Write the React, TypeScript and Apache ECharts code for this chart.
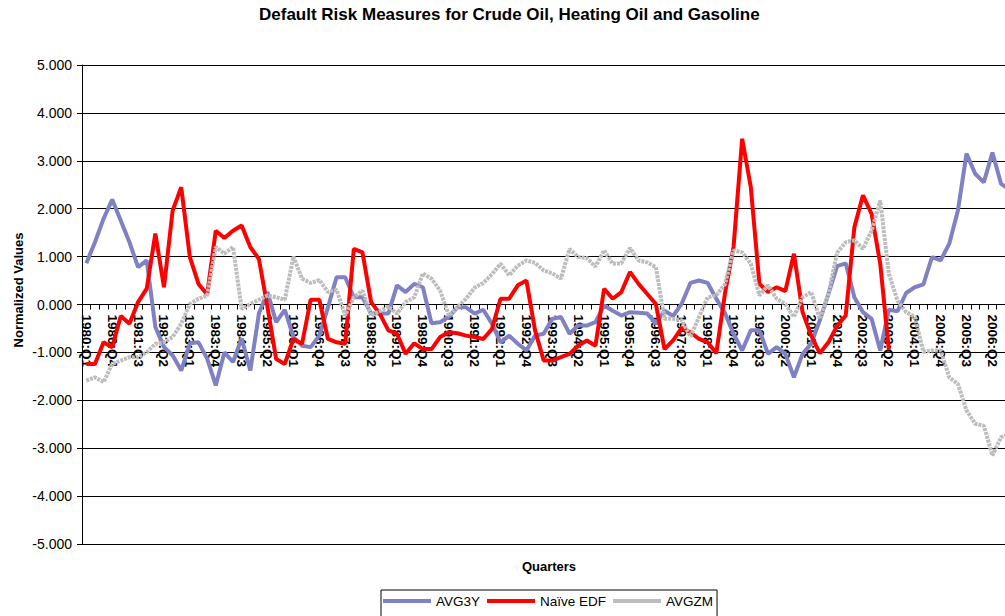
import React, { useEffect, useRef } from "react";
import * as echarts from "echarts";

const years: number[] = [];
for (let y = 1980; y <= 2006; y++) years.push(y);
const quarters = ["Q1", "Q2", "Q3", "Q4"];
const categories: string[] = [];
years.forEach((y) => quarters.forEach((q) => categories.push(`${y}:${q}`)));

const avg3y = [
  0.86, 1.30, 1.79, 2.19, 1.75, 1.30, 0.78, 0.92, -0.47, -0.89,
  -1.06, -1.38, -0.81, -0.79, -1.13, -1.69, -1.00, -1.20, -0.71, -1.38,
  -0.19, 0.26, -0.37, -0.11, -0.68, -0.86, -0.89, -0.65, -0.06, 0.57,
  0.57, 0.15, 0.15, -0.19, -0.19, -0.19, 0.40, 0.26, 0.43, 0.36,
  -0.39, -0.37, -0.26, -0.06, -0.06, -0.19, -0.11, -0.40, -0.79, -0.65,
  -0.82, -0.96, -0.65, -0.61, -0.30, -0.26, -0.61, -0.44, -0.44, -0.37,
  -0.02, -0.13, -0.23, -0.16, -0.17, -0.19, -0.40, -0.13, -0.24, 0.02,
  0.45, 0.50, 0.45, 0.12, -0.18, -0.61, -0.96, -0.54, -0.54, -1.03,
  -0.89, -1.03, -1.52, -1.03, -0.82, -0.33, 0.22, 0.80, 0.86, 0.15,
  -0.16, -0.30, -0.96, -0.11, -0.14, 0.24, 0.36, 0.42, 0.99, 0.92,
  1.27, 1.96, 3.15, 2.73, 2.55, 3.17, 2.52, 2.40,
];

const naiveEdf: (number | null)[] = [
  -1.24, -1.24, -0.79, -0.89, -0.24, -0.40, 0.05, 0.33, 1.48, 0.36,
  1.96, 2.45, 0.99, 0.43, 0.21, 1.54, 1.39, 1.54, 1.65, 1.20,
  0.95, -0.06, -1.14, -1.24, -0.72, -0.82, 0.10, 0.10, -0.72, -0.79,
  -0.82, 1.16, 1.09, 0.05, -0.19, -0.54, -0.61, -1.03, -0.81, -0.93,
  -0.93, -0.68, -0.58, -0.60, -0.65, -0.68, -0.72, -0.51, 0.12, 0.12,
  0.40, 0.50, -0.54, -1.17, -1.17, -1.10, -1.03, -0.86, -0.75, -0.86,
  0.33, 0.12, 0.26, 0.68, 0.43, 0.22, 0.01, -0.93, -0.75, -0.49,
  -0.58, -0.72, -0.79, -1.02, 0.22, 1.20, 3.46, 2.45, 0.43, 0.26,
  0.36, 0.28, 1.06, -0.16, -0.65, -1.02, -0.79, -0.45, -0.23, 1.61,
  2.28, 1.89, 0.85, -0.95, null, null, null, null, null, null,
  null, null, null, null, null, null, null, null,
];

const avgzm = [
  -1.59, -1.52, -1.62, -1.24, -1.17, -1.10, -1.10, -1.00, -0.82, -0.79,
  -0.68, -0.40, 0.01, 0.12, 0.19, 1.20, 1.06, 1.20, -0.09, 0.01,
  0.10, 0.19, 0.15, 0.10, 1.00, 0.54, 0.45, 0.51, 0.26, 0.31,
  -0.23, 0.15, 0.29, -0.23, -0.14, -0.04, -0.19, 0.05, 0.15, 0.65,
  0.54, 0.29, -0.23, -0.06, 0.12, 0.35, 0.45, 0.63, 0.85, 0.61,
  0.81, 0.92, 0.87, 0.71, 0.65, 0.54, 1.16, 0.99, 0.97, 0.79,
  1.13, 0.85, 0.86, 1.18, 0.92, 0.88, 0.78, -0.30, -0.30, -0.33,
  -0.67, -0.26, 0.15, 0.19, 0.42, 1.13, 1.09, 0.85, 0.19, 0.40,
  0.12, 0.01, -0.26, 0.15, 0.26, -0.30, 0.22, 1.08, 1.30, 1.34,
  1.16, 1.54, 2.17, 0.64, 0.08, -0.16, -0.26, -0.99, -0.96, -0.96,
  -1.52, -1.66, -2.21, -2.49, -2.53, -3.15, -2.77, -2.70,
];

const seriesNames = ["AVG3Y", "Naïve EDF", "AVGZM"];
const FONT = '"Liberation Sans", Arial, Helvetica, sans-serif';
const BLUE = "#8080c4";
const RED = "#ff0000";
const GREY = "#bdbdbd";

export default function App() {
  const ref = useRef<HTMLDivElement>(null);
  useEffect(() => {
    if (!ref.current) return;
    const chart = echarts.init(ref.current, undefined, { renderer: "svg" });
    chart.setOption({
      animation: false,
      backgroundColor: "#ffffff",
      title: {
        text: "Default Risk Measures for Crude Oil, Heating Oil and Gasoline",
        left: 259,
        top: 6,
        padding: 0,
        textStyle: { fontFamily: FONT, fontSize: 17, fontWeight: "bold", color: "#000" },
      },
      legend: {
        data: seriesNames.map((n) => ({ name: n, icon: "rect" })),
        left: 381,
        top: 590,
        orient: "horizontal",
        padding: [4, 4, 10, 2],
        itemGap: 7,
        itemWidth: 48,
        itemHeight: 4,
        borderColor: "#000",
        borderWidth: 1,
        textStyle: { fontFamily: FONT, fontSize: 13.5, color: "#000" },
      },
      grid: { left: 82, top: 65, width: 932, height: 479, containLabel: false },
      xAxis: {
        type: "category",
        data: categories,
        boundaryGap: true,
        position: "bottom",
        offset: -239.5,
        axisLine: { onZero: false, lineStyle: { color: "#000", width: 1 } },
        axisTick: { show: true, interval: 0, length: 5, lineStyle: { color: "#000" } },
        axisLabel: {
          interval: 2,
          rotate: -90,
          margin: 10,
          fontFamily: FONT,
          fontSize: 13.5,
          fontWeight: "bold",
          color: "#000",
        },
        splitLine: { show: false },
      },
      yAxis: {
        type: "value",
        min: -5,
        max: 5,
        interval: 1,
        axisLine: { show: true, lineStyle: { color: "#000", width: 1 } },
        axisTick: { show: true, length: 5, lineStyle: { color: "#000" } },
        axisLabel: {
          formatter: (v: number) => v.toFixed(3),
          margin: 10,
          fontFamily: FONT,
          fontSize: 14,
          color: "#000",
        },
        splitLine: { show: true, lineStyle: { color: "#000", width: 1 } },
      },
      graphic: [
        {
          type: "text",
          x: 18,
          y: 290,
          rotation: Math.PI / 2,
          style: {
            text: "Normalized Values",
            font: `bold 13px ${FONT}`,
            fill: "#000",
            textAlign: "center",
            textVerticalAlign: "middle",
          },
        },
        {
          type: "text",
          x: 549,
          y: 566,
          style: {
            text: "Quarters",
            font: `bold 13px ${FONT}`,
            fill: "#000",
            textAlign: "center",
            textVerticalAlign: "middle",
          },
        },
      ],
      series: [
        {
          name: seriesNames[0],
          type: "line",
          data: avg3y,
          symbol: "none",
          lineStyle: { color: BLUE, width: 4 },
          itemStyle: { color: BLUE },
        },
        {
          name: seriesNames[1],
          type: "line",
          data: naiveEdf,
          symbol: "none",
          connectNulls: false,
          lineStyle: { color: RED, width: 4 },
          itemStyle: { color: RED },
        },
        {
          name: seriesNames[2],
          type: "line",
          data: avgzm,
          symbol: "none",
          lineStyle: { color: GREY, width: 4, type: [3, 1] },
          itemStyle: { color: GREY },
        },
      ],
    });
    return () => chart.dispose();
  }, []);
  return (
    <div
      style={{
        position: "fixed",
        left: 0,
        top: 0,
        width: 1005,
        height: 616,
        overflow: "hidden",
        background: "#fff",
      }}
    >
      <div ref={ref} style={{ width: 1030, height: 616 }} />
    </div>
  );
}
